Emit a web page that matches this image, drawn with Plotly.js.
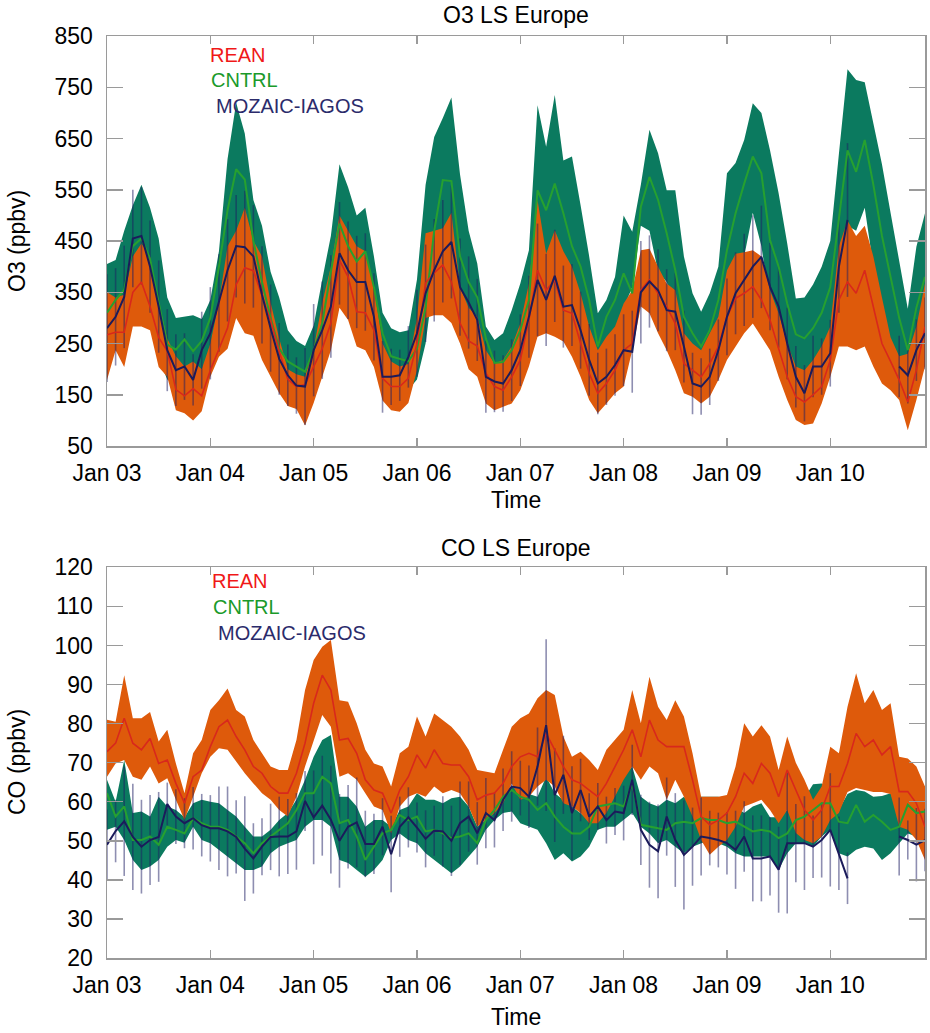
<!DOCTYPE html>
<html>
<head>
<meta charset="utf-8">
<script src="https://cdn.plot.ly/plotly-3.0.1.min.js"></script>
<style>html,body{margin:0;padding:0;background:#fff;}#chart{width:930px;height:1033px;}</style>
</head>
<body>
<div id="chart"></div>
<script>
// ---------- time categories: 2-hourly, Jan 03 00:00 .. Jan 10 22:00 ----------
const startTime = Date.UTC(2010, 0, 3, 0, 0);
const nPoints = 96;
const times = [];
for (let i = 0; i < nPoints; i++) {
  times.push(new Date(startTime + i * 7200000).toISOString().slice(0, 16).replace('T', ' '));
}
const xRange = ['2010-01-03 00:00', '2010-01-10 22:00'];

// ---------- O3 (ppbv) ----------
const o3CntrlHi = [405,413,470,520,560,515,455,340,300,303,305,298,
  335,430,610,720,660,530,480,390,340,276,255,245,
  285,375,460,600,555,500,515,420,310,280,272,276,
  375,560,653,690,730,580,470,406,283,257,270,315,
  367,432,715,634,735,607,615,520,420,309,335,380,
  500,468,560,667,621,549,549,420,348,312,348,400,
  582,602,647,719,700,627,543,445,338,340,365,400,
  450,620,785,764,760,680,600,505,415,318,439,504];
const o3CntrlMean = [310,335,355,440,455,415,330,248,238,258,235,255,
  300,400,510,590,570,450,370,300,240,215,205,195,
  237,290,390,484,440,410,430,360,270,225,220,215,
  240,320,470,569,567,420,370,340,260,212,214,237,
  276,335,549,510,562,504,440,400,335,244,302,335,
  387,348,517,575,530,465,393,302,270,244,276,335,
  432,504,562,615,582,452,400,328,268,260,280,310,
  360,490,627,585,647,560,460,380,300,237,320,380];
const o3CntrlLo = [230,250,250,340,350,320,220,180,170,180,170,180,
  220,300,380,430,440,360,290,230,180,160,150,150,
  180,220,300,380,340,320,330,280,210,170,165,160,
  180,250,380,440,440,330,290,260,200,160,160,180,
  210,260,420,400,430,400,350,310,250,190,240,270,
  320,360,480,470,390,370,320,240,200,180,200,260,
  330,400,420,505,440,330,280,230,190,185,200,230,
  270,400,480,470,515,400,320,250,210,190,220,260];
const o3ReanHi = [350,340,345,420,445,420,330,260,225,205,215,200,
  250,330,440,470,515,450,420,330,260,200,190,185,
  240,330,400,500,470,440,430,360,250,215,205,210,
  300,465,470,475,505,360,320,302,237,211,218,244,
  289,367,530,425,471,430,400,348,283,237,263,283,
  328,354,432,435,400,367,354,270,250,237,270,302,
  393,425,428,432,420,354,309,250,205,198,218,245,
  283,440,490,460,480,420,340,262,225,230,283,367];
const o3ReanMean = [267,272,272,350,370,322,262,235,160,148,162,148,
  198,240,280,365,398,392,345,295,235,180,166,170,
  205,240,290,412,380,312,310,276,182,166,166,182,
  250,368,388,403,370,290,255,245,192,166,159,185,
  218,296,393,354,374,315,309,250,192,153,172,198,
  237,250,354,374,348,322,289,211,198,185,211,244,
  302,338,348,361,335,296,240,185,146,136,150,166,
  218,335,370,348,393,322,250,215,179,136,198,283];
const o3ReanLo = [179,237,204,283,283,276,204,185,120,114,100,118,
  185,224,240,300,270,265,218,185,153,128,122,90,
  134,185,237,320,296,244,237,204,139,120,117,134,
  198,300,305,305,290,250,200,185,133,120,127,133,
  159,205,263,270,263,254,224,185,140,114,133,153,
  166,237,322,309,270,237,198,153,146,133,146,179,
  218,244,270,289,263,237,185,140,101,91,94,133,
  185,244,244,237,244,205,172,159,140,81,140,205];
const o3Obs = [280,302,341,455,460,400,322,237,198,205,179,237,
  270,329,393,440,438,420,345,280,220,188,168,166,
  237,276,322,426,393,370,370,302,185,185,188,224,
  270,348,393,430,448,360,330,296,185,176,172,198,
  237,302,374,335,382,322,325,276,218,172,185,208,
  237,234,350,371,354,315,312,244,172,166,185,237,
  302,348,374,400,419,361,322,250,185,153,205,205,
  231,400,491,null,null,null,null,null,205,188,237,270];
const o3ObsErr = [105,95,100,95,95,90,90,80,70,65,50,75,
  90,95,100,100,110,100,95,85,70,60,55,75,
  90,95,100,100,95,90,95,85,70,55,50,60,
  85,95,100,100,110,95,90,80,70,60,55,60,
  70,80,110,90,90,80,80,75,70,60,55,60,
  70,80,100,90,80,80,75,70,60,55,55,60,
  75,80,90,100,100,85,80,70,60,55,60,55,
  65,90,150,null,null,null,null,null,60,55,60,70];

// ---------- CO (ppbv) ----------
const coCntrlHi = [65.6,60,70.7,57.1,57.5,56.2,61.3,58.8,57.9,56,59.6,60.5,
  60,59.6,57.9,56.2,53.6,51.1,51.1,52.8,55.3,57.1,60.5,65.6,
  71.5,75.8,77.1,61.3,61.3,58.8,53.6,55.3,55.3,53.6,57.9,58.8,
  62.2,60.5,60.5,59.6,60.9,61.3,58.8,53.6,55.3,59.6,62.2,63.9,
  63,62,61.3,66.4,62.2,60.5,58.8,57.1,55.3,58.8,61.3,63.9,
  66.4,69,61.3,59.6,58.8,60.5,59.6,61.3,58.8,61.3,61.3,61.3,
  60.5,58.8,57.1,58.8,59.6,56,56,57.9,58,61,64.5,64.7,
  63,58,62,63,62.6,61.3,61.5,62.2,57.1,60,63.9,63.9];
const coCntrlMean = [62.2,56.2,58.8,50.2,50.2,51.1,49,53.6,52.8,51.9,55.8,54.5,
  53.6,53.6,52.8,51.1,49.4,46.8,49.4,51.1,52.8,54.5,57.9,62.2,
  62.2,66.4,64.7,54.5,55.3,51.1,45.1,48.5,51.9,52.8,56.6,55.3,
  56.2,52.4,52.8,51.9,50.7,51.1,51.9,49.4,55.3,57.9,61.3,63,
  61.3,60.5,57.9,59.6,56.2,53.6,51.9,51.9,53.6,58.8,59.2,59.6,
  58.8,64.7,54.1,53.6,53.2,52.8,54.5,54.9,54.5,55.8,55.3,55.3,
  54.5,54.9,53.6,52.4,52.8,52.4,50.7,51.9,55.3,56.2,57.9,59.6,
  59.6,54.9,54.5,59.2,54.9,56.6,54.9,52.8,53.6,59.2,57.1,57.5];
const coCntrlLo = [52.8,53.6,50.2,45.1,42.5,43.4,45.1,48.5,50.2,49.5,53.6,50.2,
  49.4,47.7,46,44.3,42.5,42.5,43.4,46.8,48.5,49.4,50.2,53.6,
  55.3,55.3,53.6,45.1,44.3,42.5,40.8,42.5,45.1,50.2,51.9,50.2,
  49.4,46.8,45.1,43.4,41.7,43.4,46,48.5,52.8,55.3,57.1,57.5,
  54.5,53.6,52.8,49.4,45.1,46.8,44.7,46,48.5,52.8,53.6,53.6,
  55.3,57.1,53.6,51.9,49.4,50.2,48.5,46.8,48.5,49.4,50.2,49.4,
  48.5,46.8,46,46,46,46,42.5,46.8,49.4,49.4,48.5,51.1,
  52.8,46.8,46,47.7,48.5,48,45.1,46.8,49.4,51.9,51.1,51.9];
const coReanHi = [81,80.5,92.4,81.4,81.4,83,75.4,78.4,69.8,62.2,72.4,75.8,
  83.5,86,89,83.5,81.8,75.8,72.4,69,68.1,68.1,75.8,88.6,
  96.3,99.7,101.4,86,85.6,80.1,73.3,69.8,69,63.9,72.4,74.1,
  81.8,76.7,82.6,80.9,79.2,76.7,73.3,68.1,67.7,67.3,73.3,79.2,
  81.4,82.6,86.5,88.6,87.3,76.7,71.5,72.8,70.7,68.1,73.3,75.8,
  78.4,88.6,80.1,92,84.3,80.9,86,81.8,72.4,61.3,61.3,61.3,
  61.7,69,80.1,76.7,79.6,76.7,68.1,76.7,70,65.6,60.5,63.9,
  74.1,72.4,84.3,92.9,85.2,88.6,83.5,85.2,71.5,71.1,69,63.9];
const coReanMean = [72.8,75,81.4,75,73.3,76.2,69.8,70.7,64.7,59.6,66.4,68.1,
  74.1,79.2,80.9,76.7,73.3,69,67.3,63.9,62.2,62.2,67.3,75,
  85.2,92.4,88.6,75.8,76.2,72.4,65.6,63,62.2,57.1,63,66.4,
  72,68.6,73.3,69.8,69.4,69.4,66.4,60.5,61.7,62.2,64.7,69,
  71.5,72.4,71.5,77.5,73.3,69,65.6,64.7,63,61.3,64.7,69,
  73.3,78.4,71.5,80.9,75.8,74.1,74.1,74.1,65.6,56.2,54.1,55.3,
  57.1,61.3,67.3,64.7,69.8,67.3,61.3,68.1,63,57.9,55.3,57.9,
  63.9,63.9,69.8,77.5,74.1,75.8,72,74.1,62.6,62.6,59.6,53.6];
const coReanLo = [66.4,69.8,70.7,66.4,65.6,69,64.7,66,60.5,55.3,61.3,67.3,
  71.5,73.7,73.3,70.3,67.3,64.7,62.2,60.5,57.9,56.2,61.3,69,
  75.8,82.2,79.2,66.4,67.3,65.6,62.2,58.8,57.9,51.9,58.8,61.3,
  62.2,61.3,63.9,62.2,63,62.2,58.8,53.6,55.3,57.1,59.6,64.7,
  60.5,61.3,63.9,65.6,63.9,59.6,58.8,57.1,54.5,54.5,57.1,61.3,
  65.6,69,65.6,69,67.3,60.5,65.6,61.3,56.2,50.2,46.4,48.5,
  50.2,53.6,58.8,59.6,60.5,57.9,54.5,57.9,52,50.2,49.4,51.1,
  55.3,57.1,62.5,63.5,63,62.5,62.5,62,53.6,52.8,50.2,45.1];
const coObs = [49,52.5,55,51,48.5,50.2,51,59.4,56.2,54.5,55.8,54,
  53.2,53.2,52.4,51,48,45.5,48.5,51,51.1,51.1,52.4,60.2,
  56,59,55.4,50,53.6,54.7,49.2,49.2,53.6,46.6,53.6,56,
  53.4,50.5,52.6,52.4,50,54.5,56.2,51.9,57.1,55.3,60.5,63.9,
  63.5,61.3,69,79.6,61.7,66.9,57.1,63,56.2,58.8,55.3,57.5,
  57.1,65.6,52.8,49,47.3,56.2,50.2,46.4,48.5,51.1,50.7,50.2,
  49.4,47.7,51.1,45.5,45.5,46,42.6,49.4,49.4,49.4,48.5,50.2,
  52.8,46.8,40.4,null,null,null,null,null,51.1,50.2,49,50.2];
const coObsErr = [9,8,14,13.6,12,11.5,11.5,5.5,7,6.4,8,8,
  8.5,10.7,11.5,9.4,13.4,9,7.3,8.5,10.2,9.6,9.8,7.7,
  12,12.8,13.8,12,10.7,11.5,8.5,7.7,7.3,9.8,7.7,7.7,
  6.4,7.3,6.4,9,9,10.7,9,8,9,7,8,9,
  7,8,10,22,12,10,12,8,6,6,6,6,
  7,9,9,11,12,10,12,14,10,10,7,7,
  8,10,9,11,11,10,11,18,10,12,8,9.6,
  14.5,9.4,6.6,null,null,null,null,null,10,5,9.4,8];

// ---------- styles ----------
const GREEN_BAND = '#0b7a5f';
const ORANGE_BAND = '#de5a0b';
const RED_LINE = '#d8281c';
const GREEN_LINE = '#26a030';
const NAVY = '#1b1b5b';
const ERR_COLOR = 'rgba(30,30,100,0.5)';
const FONT = 'Liberation Sans, Arial, Helvetica, sans-serif';

function panelTraces(xa, ya, cLo, cHi, cMean, rLo, rHi, rMean, obs, err) {
  const base = {x: times, xaxis: xa, yaxis: ya, showlegend: false, hoverinfo: 'skip'};
  return [
    Object.assign({}, base, {y: cLo, mode: 'lines', line: {width: 0, color: GREEN_BAND}}),
    Object.assign({}, base, {y: cHi, mode: 'lines', line: {width: 0, color: GREEN_BAND}, fill: 'tonexty', fillcolor: GREEN_BAND}),
    Object.assign({}, base, {y: rLo, mode: 'lines', line: {width: 0, color: ORANGE_BAND}}),
    Object.assign({}, base, {y: rHi, mode: 'lines', line: {width: 0, color: ORANGE_BAND}, fill: 'tonexty', fillcolor: ORANGE_BAND}),
    Object.assign({}, base, {y: obs, mode: 'markers', marker: {size: 1, color: 'rgba(0,0,0,0)'},
      error_y: {type: 'data', array: err, visible: true, color: ERR_COLOR, thickness: 1.6, width: 0}}),
    Object.assign({}, base, {y: cMean, mode: 'lines', line: {width: 2, color: GREEN_LINE}}),
    Object.assign({}, base, {y: rMean, mode: 'lines', line: {width: 1.6, color: RED_LINE}}),
    Object.assign({}, base, {y: obs, mode: 'lines', line: {width: 2, color: NAVY}, connectgaps: false})
  ];
}

const data = [].concat(
  panelTraces('x', 'y', o3CntrlLo, o3CntrlHi, o3CntrlMean, o3ReanLo, o3ReanHi, o3ReanMean, o3Obs, o3ObsErr),
  panelTraces('x2', 'y2', coCntrlLo, coCntrlHi, coCntrlMean, coReanLo, coReanHi, coReanMean, coObs, coObsErr)
);

const axisCommon = {
  showline: true, mirror: 'ticks', linecolor: '#9a9a9a', linewidth: 1.5,
  ticks: 'inside', tickcolor: '#9a9a9a', tickwidth: 1.5,
  showgrid: false, zeroline: false,
  tickfont: {family: FONT, size: 23, color: '#000'}
};
function xAxis(anchor) {
  return Object.assign({}, axisCommon, {
    anchor: anchor, type: 'date', range: xRange, tick0: '2010-01-03', dtick: 86400000,
    tickformat: '%b %d', ticklen: 8, ticklabelstandoff: 6, domain: [0, 1]
  });
}

const ann = [];
function txt(x, y, text, opts) {
  ann.push(Object.assign({xref: 'paper', yref: 'paper', x: x, y: y, text: text, showarrow: false,
    font: {family: FONT, size: 23, color: '#000'}, xanchor: 'center', yanchor: 'middle'}, opts || {}));
}
txt(0.5, 1.0228, 'O3 LS Europe');
txt(0.5, 0.4447, 'CO LS Europe');
txt(0.5, 0.4967, 'Time');
txt(0.5, -0.064, 'Time');
txt(-0.110, 0.7777, 'O3 (ppbv)', {textangle: -90});
txt(-0.110, 0.2126, 'CO (ppbv)', {textangle: -90});
const legFont = (c) => ({family: FONT, size: 20, color: c});
txt(0.1235, 0.9794, 'REAN', {xanchor: 'left', font: legFont('#f01818')});
txt(0.1247, 0.9523, 'CNTRL', {xanchor: 'left', font: legFont('#1a9a2a')});
txt(0.1308, 0.9241, 'MOZAIC-IAGOS', {xanchor: 'left', font: legFont('#2b2b6b')});
txt(0.1259, 0.4089, 'REAN', {xanchor: 'left', font: legFont('#f01818')});
txt(0.1271, 0.3807, 'CNTRL', {xanchor: 'left', font: legFont('#1a9a2a')});
txt(0.1332, 0.3525, 'MOZAIC-IAGOS', {xanchor: 'left', font: legFont('#2b2b6b')});

const layout = {
  width: 930, height: 1033,
  margin: {l: 107, r: 5, t: 36, b: 75},
  paper_bgcolor: '#fff', plot_bgcolor: '#fff',
  showlegend: false,
  font: {family: FONT, color: '#000'},
  xaxis: xAxis('y'),
  xaxis2: xAxis('y2'),
  yaxis: Object.assign({}, axisCommon, {anchor: 'x', domain: [0.5553, 1], range: [50, 850],
    tick0: 50, dtick: 100, ticklen: 16, ticklabelstandoff: 8}),
  yaxis2: Object.assign({}, axisCommon, {anchor: 'x2', domain: [0, 0.4237], range: [20, 120],
    tick0: 20, dtick: 10, ticklen: 16, ticklabelstandoff: 8}),
  annotations: ann
};

Plotly.newPlot('chart', data, layout, {staticPlot: true, displayModeBar: false});
</script>
</body>
</html>
